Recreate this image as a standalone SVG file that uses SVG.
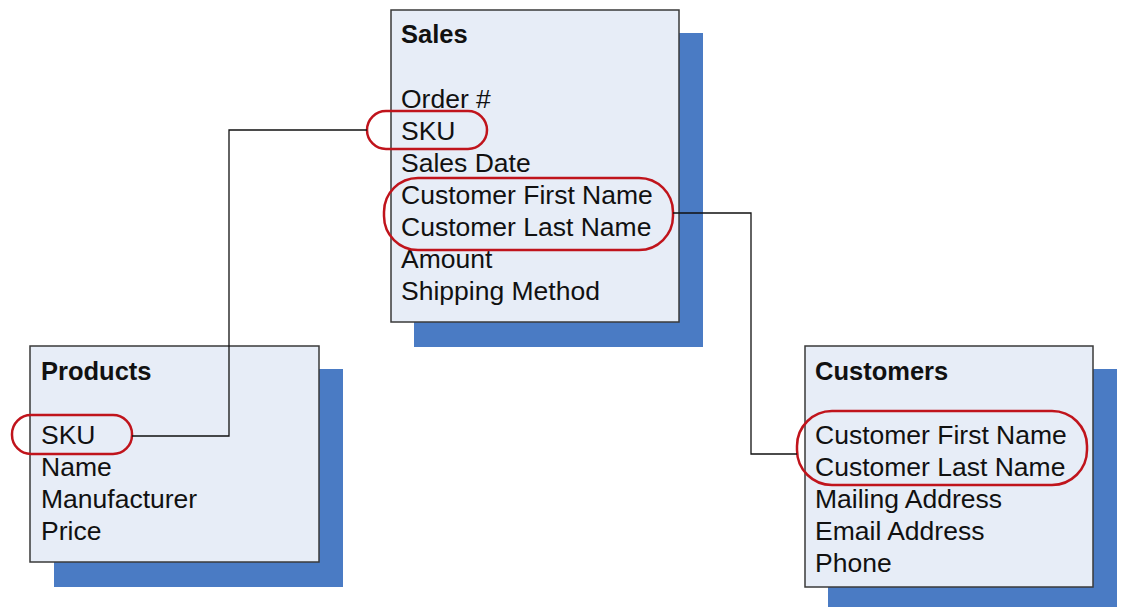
<svg xmlns="http://www.w3.org/2000/svg" width="1122" height="607" viewBox="0 0 1122 607">
<style>
.shadow{fill:#4a7bc4}
.box{fill:#e7edf7;stroke:#3a3a3a;stroke-width:1.5}
.t{font-family:"Liberation Sans",Arial,sans-serif;font-size:26.5px;fill:#111}
.h{font-weight:bold;font-size:25.5px}
.hl{fill:none;stroke:#c0141c;stroke-width:2.5}
.c{fill:none;stroke:#111;stroke-width:1.3}
</style>
<rect width="1122" height="607" fill="#fff"/>
<g id="sales">
<rect class="shadow" x="414" y="33" width="289" height="314"/>
<rect class="box" x="391" y="10" width="288" height="312"/>
<text class="t h" x="401" y="43">Sales</text>
<text class="t" x="401" y="108">Order #</text>
<text class="t" x="401" y="140">SKU</text>
<text class="t" x="401" y="172">Sales Date</text>
<text class="t" x="401" y="204">Customer First Name</text>
<text class="t" x="401" y="236">Customer Last Name</text>
<text class="t" x="401" y="268">Amount</text>
<text class="t" x="401" y="300">Shipping Method</text>
<rect class="hl" x="367" y="111" width="120" height="38" rx="19"/>
<rect class="hl" x="384" y="178" width="289" height="72" rx="34"/>
</g>
<g id="products">
<rect class="shadow" x="54" y="369" width="289" height="218"/>
<rect class="box" x="30" y="346" width="289" height="216"/>
<text class="t h" x="41" y="380">Products</text>
<text class="t" x="41" y="444">SKU</text>
<text class="t" x="41" y="476">Name</text>
<text class="t" x="41" y="508">Manufacturer</text>
<text class="t" x="41" y="540">Price</text>
<rect class="hl" x="12" y="415" width="120" height="39" rx="19"/>
</g>
<g id="customers">
<rect class="shadow" x="828" y="369" width="289" height="245"/>
<rect class="box" x="805" y="346" width="288" height="241"/>
<text class="t h" x="815" y="380">Customers</text>
<text class="t" x="815" y="444">Customer First Name</text>
<text class="t" x="815" y="476">Customer Last Name</text>
<text class="t" x="815" y="508">Mailing Address</text>
<text class="t" x="815" y="540">Email Address</text>
<text class="t" x="815" y="572">Phone</text>
<rect class="hl" x="797" y="411" width="290" height="74" rx="35"/>
</g>
<g id="connectors">
<polyline class="c" points="367,130 229,130 229,436 132,436"/>
<polyline class="c" points="673,213 751,213 751,454 797,454"/>
</g>
</svg>
